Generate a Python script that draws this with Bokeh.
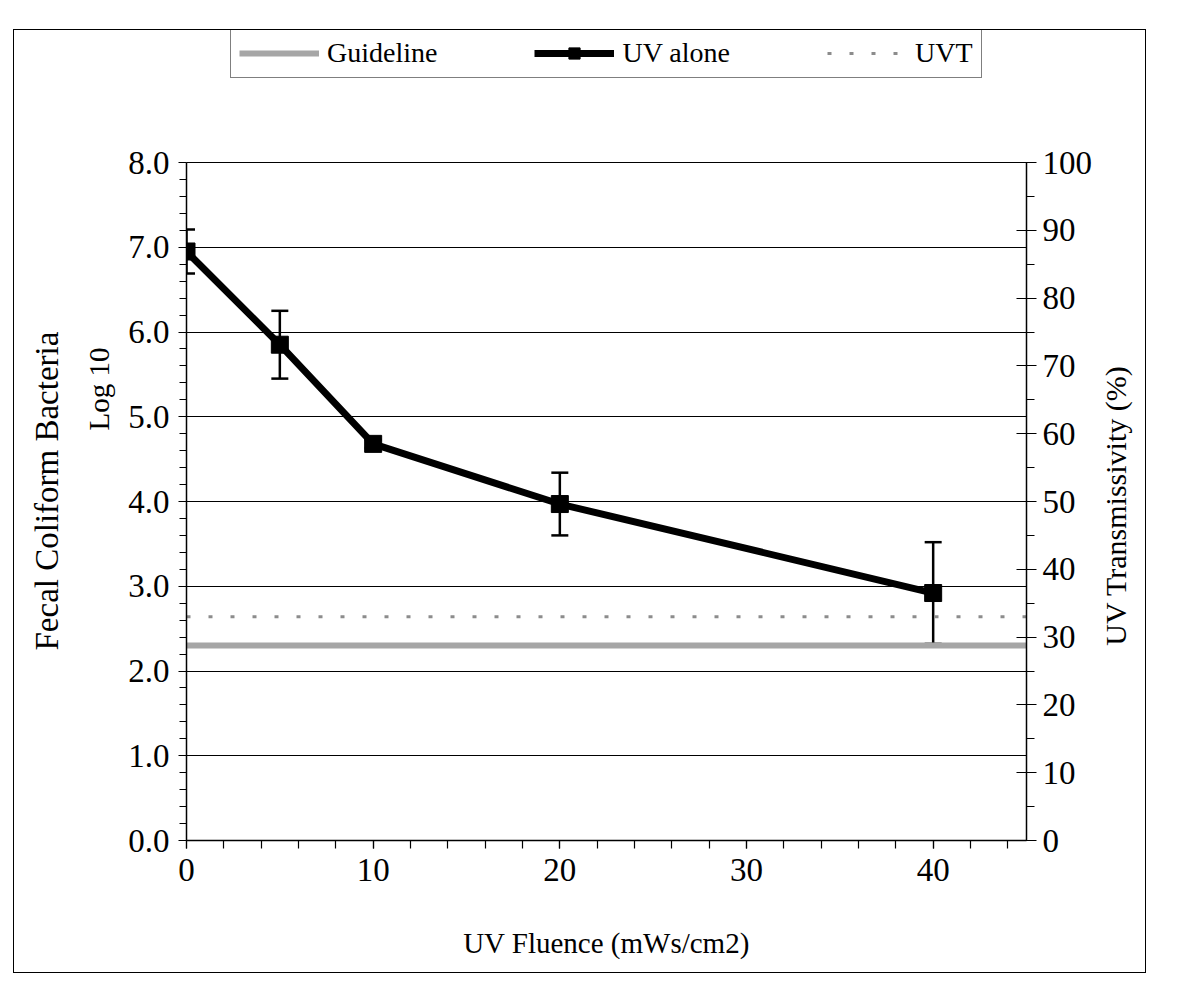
from math import pi

from bokeh.plotting import figure
from bokeh.layouts import row
from bokeh.models import (Range1d, LinearAxis, SingleIntervalTicker, PrintfTickFormatter,
                          ColumnDataSource, Whisker, TeeHead, Legend, LegendItem, Title, Label)
from bokeh.embed import file_html
from bokeh.resources import INLINE

# UV fluence (mWs/cm2) and log10 fecal coliform counts with their spread
fluence = [0, 5, 10, 20, 40]
log_fc = [6.95, 5.85, 4.68, 3.97, 2.92]
log_fc_err = [0.26, 0.40, 0.05, 0.37, 0.60]

# discharge guideline (log10 FC) and UV transmissivity (%)
guide_x = [0, 45]
guide_log = [2.3, 2.3]
uvt_x = [0, 45]
uvt_pct = [33, 33]

FONT = "Liberation Serif"
TICK_PX = "33px"
TITLE_PX = "29px"

# the frame runs up to the top of the canvas so the legend can sit above the axes;
# the axes themselves stop at 8 (left) and 100 % (right)
W, H = 1086, 942
SIDE_W = 45
LEFT, RIGHT, BOTTOM = 172, 74, 132
AXIS_H = 678                      # pixel height of the 0..8 scale
frame_h = H - BOTTOM
y_top = 8 * frame_h / AXIS_H
uvt_top = 100 * frame_h / AXIS_H

p = figure(width=W, height=H,
           x_range=Range1d(0, 45), y_range=Range1d(0, y_top),
           output_backend="svg", toolbar_location=None,
           min_border_left=LEFT, min_border_right=RIGHT,
           min_border_top=0, min_border_bottom=BOTTOM)
p.outline_line_color = None
p.background_fill_color = "white"
p.border_fill_color = "white"
p.extra_y_ranges = {"uvt": Range1d(0, uvt_top)}


def style_axis(a):
    a.axis_line_color = "black"
    a.axis_line_width = 1.5
    a.major_tick_line_color = "black"
    a.minor_tick_line_color = "black"
    a.major_tick_line_width = 1.2
    a.minor_tick_line_width = 1.2
    a.major_label_text_font = FONT
    a.major_label_text_font_size = TICK_PX
    a.major_label_text_color = "black"


# x axis
xa = p.xaxis[0]
xa.ticker = SingleIntervalTicker(interval=10, num_minor_ticks=5)
style_axis(xa)
xa.axis_label = "UV Fluence (mWs/cm2)"
xa.axis_label_text_font = FONT
xa.axis_label_text_font_size = TITLE_PX
xa.axis_label_text_font_style = "normal"
xa.axis_label_text_color = "black"
xa.axis_label_standoff = 43
xa.major_label_standoff = 10
xa.major_tick_in = 0
xa.major_tick_out = 8
xa.minor_tick_in = 0
xa.minor_tick_out = 8

# left axis: log10 counts
y_ticker = SingleIntervalTicker(interval=1, num_minor_ticks=5)
ya = p.yaxis[0]
ya.ticker = y_ticker
ya.bounds = (0, 8)
ya.formatter = PrintfTickFormatter(format="%.1f")
style_axis(ya)
ya.major_label_standoff = 9
ya.major_tick_in = 0
ya.major_tick_out = 8
ya.minor_tick_in = 0
ya.minor_tick_out = 7

p.xgrid.visible = False
p.ygrid.ticker = y_ticker
p.ygrid.bounds = (0, 8)
p.ygrid.grid_line_color = "black"
p.ygrid.grid_line_width = 1

# right axis: transmissivity
ra = LinearAxis(y_range_name="uvt", bounds=(0, 100),
                ticker=SingleIntervalTicker(interval=10, num_minor_ticks=2))
style_axis(ra)
ra.major_label_standoff = 6
ra.major_tick_in = 10
ra.major_tick_out = 10
ra.minor_tick_in = 0
ra.minor_tick_out = 8
p.add_layout(ra, "right")

# series
g = p.line(guide_x, guide_log, line_color="#a6a6a6", line_width=6)
u = p.line(uvt_x, uvt_pct, y_range_name="uvt", line_color="#8c8c8c",
           line_width=3, line_dash="4 18")

src = ColumnDataSource(dict(
    x=fluence, y=log_fc,
    upper=[v + e for v, e in zip(log_fc, log_fc_err)],
    lower=[v - e for v, e in zip(log_fc, log_fc_err)],
))
wh = Whisker(source=src, base="x", upper="upper", lower="lower",
             line_color="black", line_width=2.5,
             upper_head=TeeHead(size=17, line_color="black", line_width=2.5),
             lower_head=TeeHead(size=17, line_color="black", line_width=2.5))
p.add_layout(wh)
ln = p.line("x", "y", source=src, line_color="black", line_width=7)
sq = p.scatter("x", "y", source=src, marker="square", size=17,
               fill_color="black", line_color="black")

legend = Legend(items=[
    LegendItem(label="Guideline", renderers=[g]),
    LegendItem(label="UV alone", renderers=[ln, sq]),
    LegendItem(label="UVT", renderers=[u]),
], orientation="horizontal", location=(44, frame_h - 48))
legend.label_text_font = FONT
legend.label_text_font_size = "28px"
legend.label_text_color = "black"
legend.label_standoff = 8
legend.glyph_width = 80
legend.glyph_height = 28
legend.label_height = 28
legend.spacing = 97
legend.padding = 8
legend.margin = 0
legend.border_line_color = "black"
legend.border_line_width = 1
legend.background_fill_color = "white"
legend.background_fill_alpha = 1
p.add_layout(legend, "center")

# two-line title of the left axis
for txt, off, gap, size in [("Log 10", 410, 21, "29px"),
                            ("Fecal Coliform Bacteria", 190, 12, "33px")]:
    p.add_layout(Title(text=txt, align="left", offset=off, standoff=gap,
                       text_font=FONT, text_font_size=size,
                       text_font_style="normal", text_color="black"), "left")

# narrow strip holding the title of the right axis, read bottom to top;
# its frame lines up with the main frame
side = figure(width=SIDE_W, height=H,
              x_range=Range1d(0, SIDE_W), y_range=Range1d(0, frame_h),
              output_backend="svg", toolbar_location=None,
              min_border_left=0, min_border_right=0,
              min_border_top=0, min_border_bottom=BOTTOM)
side.outline_line_color = None
side.xaxis.visible = False
side.yaxis.visible = False
side.grid.visible = False
side.background_fill_color = "white"
side.border_fill_color = "white"
side.add_layout(Label(x=15, y=335, text="UV Transmissivity (%)", angle=pi / 2,
                      text_align="center", text_baseline="middle",
                      text_font=FONT, text_font_size="30px", text_color="black"))

page = row(p, side, spacing=0)
page.margin = (30, 0, 0, 14)
page.styles = {"outline": "1px solid black"}

open("out.html", "w").write(file_html(page, INLINE))
